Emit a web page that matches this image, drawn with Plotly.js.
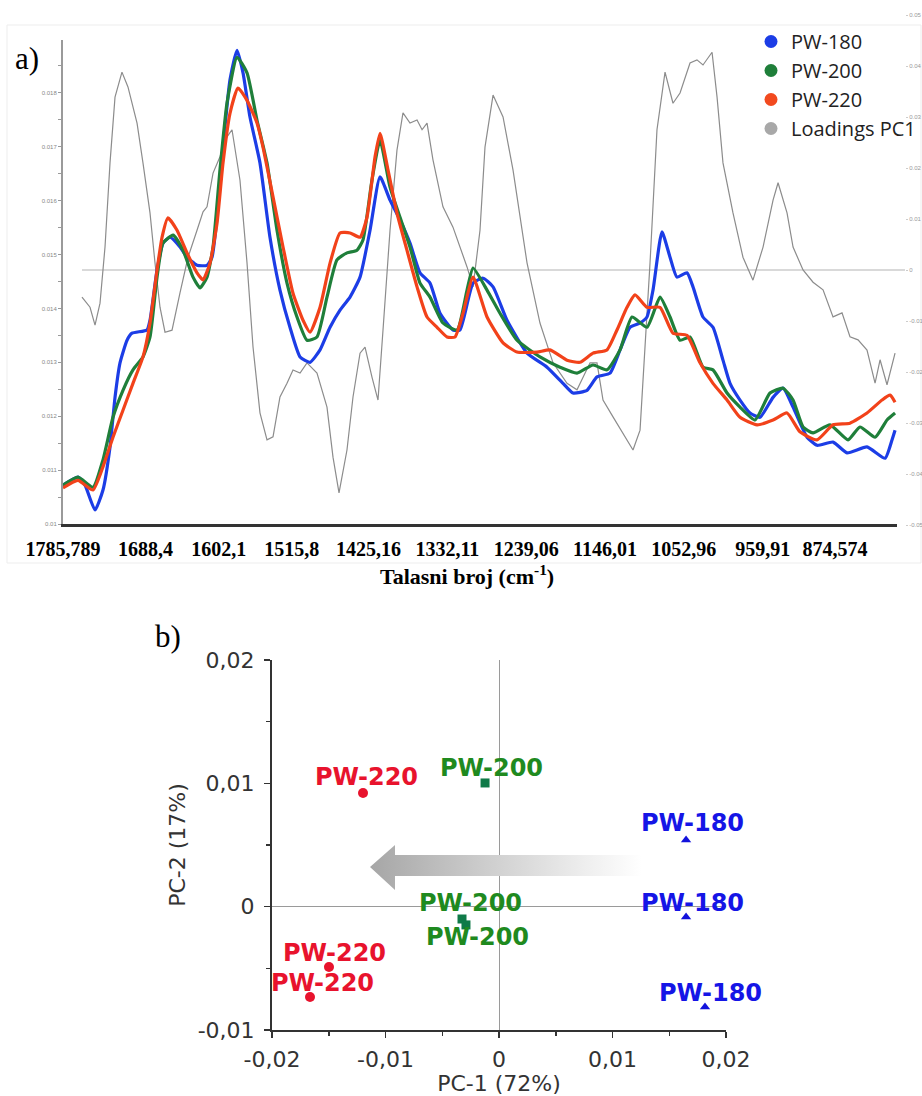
<!DOCTYPE html>
<html><head><meta charset="utf-8">
<script src="https://cdn.plot.ly/plotly-3.0.1.min.js"></script>
<style>html,body{margin:0;padding:0;background:#fff;}#chart{width:922px;height:1096px;}</style>
</head><body><div id="chart"></div>
<script>
// ---------- Panel a: FTIR spectra (wavenumber, absorbance) ----------
const wnTicks = [1785.789, 1688.4, 1602.1, 1515.8, 1425.16, 1332.11, 1239.06, 1146.01, 1052.96, 959.91, 874.574];
const wnTickText = ['1785,789', '1688,4', '1602,1', '1515,8', '1425,16', '1332,11', '1239,06', '1146,01', '1052,96', '959,91', '874,574'];
const absTicks = [0.01, 0.011, 0.012, 0.013, 0.014, 0.015, 0.016, 0.017, 0.018];
const absTickText = ['0.01', '0.011', '0.012', '0.013', '0.014', '0.015', '0.016', '0.017', '0.018'];
const loadTicks = [0.05, 0.04, 0.03, 0.02, 0.01, 0, -0.01, -0.02, -0.03, -0.04, -0.05];
const loadTickText = ['0.05', '0.04', '0.03', '0.02', '0.01', '0', '-0.01', '-0.02', '-0.03', '-0.04', '-0.05'];

const blueWn = [1785.8,1768.1,1759.8,1748.0,1738.6,1730.3,1724.4,1718.5,1710.2,1704.3,1686.6,1683.1,1674.8,1667.8,1659.5,1647.7,1639.4,1627.6,1615.8,1609.9,1604.0,1596.9,1588.7,1580.4,1573.3,1565.1,1553.3,1541.5,1529.7,1517.9,1506.0,1494.2,1482.4,1470.6,1458.8,1447.0,1435.2,1423.4,1411.6,1399.8,1388.0,1376.2,1364.4,1352.6,1340.8,1325.5,1317.2,1301.8,1290.0,1278.2,1261.7,1238.1,1214.5,1195.6,1183.8,1167.3,1155.5,1140.1,1128.3,1116.5,1104.7,1096.5,1089.4,1078.8,1069.3,1061.1,1049.3,1042.2,1030.4,1018.6,1006.8,998.5,986.7,974.9,963.1,947.7,935.9,924.1,907.6,895.8,876.9,860.4,836.8,815.5,807.3,803.7];
const blueAbs = [0.01072,0.01087,0.01072,0.01026,0.01063,0.01143,0.01235,0.01299,0.01341,0.01354,0.01360,0.01378,0.01471,0.01521,0.01532,0.01514,0.01495,0.01480,0.01480,0.01495,0.01569,0.01699,0.01824,0.01879,0.01837,0.01755,0.01670,0.01532,0.01434,0.01365,0.01310,0.01300,0.01323,0.01365,0.01397,0.01421,0.01458,0.01545,0.01644,0.01601,0.01564,0.01521,0.01466,0.01447,0.01391,0.01360,0.01360,0.01447,0.01456,0.01440,0.01378,0.01317,0.01291,0.01261,0.01243,0.01248,0.01273,0.01280,0.01323,0.01365,0.01373,0.01384,0.01434,0.01542,0.01495,0.01458,0.01466,0.01440,0.01384,0.01365,0.01304,0.01261,0.01230,0.01206,0.01198,0.01235,0.01252,0.01217,0.01161,0.01146,0.01152,0.01132,0.01143,0.01122,0.01156,0.01174];

const greenWn = [1785.8,1768.1,1750.4,1738.6,1726.8,1715.0,1703.2,1691.4,1683.1,1674.8,1667.8,1655.9,1644.1,1632.3,1624.1,1615.8,1608.7,1600.5,1592.2,1580.4,1568.6,1556.8,1545.0,1533.2,1521.4,1509.6,1497.8,1486.0,1474.2,1462.4,1450.6,1438.8,1431.7,1421.1,1411.6,1399.8,1388.0,1376.2,1364.4,1352.6,1337.3,1320.7,1308.9,1301.8,1285.3,1270.0,1249.9,1222.8,1199.2,1179.1,1160.2,1143.7,1128.3,1114.2,1096.5,1081.1,1069.3,1057.5,1045.7,1030.4,1018.6,1002.0,986.7,969.0,951.3,935.9,924.1,912.3,900.5,880.5,859.2,845.1,827.3,813.2,803.7];
const greenAbs = [0.01072,0.01087,0.01068,0.01119,0.01198,0.01248,0.01286,0.01310,0.01347,0.01458,0.01521,0.01536,0.01508,0.01458,0.01438,0.01458,0.01514,0.01657,0.01781,0.01866,0.01837,0.01749,0.01670,0.01545,0.01447,0.01384,0.01341,0.01347,0.01421,0.01490,0.01503,0.01508,0.01527,0.01638,0.01712,0.01625,0.01569,0.01514,0.01447,0.01421,0.01373,0.01360,0.01434,0.01475,0.01434,0.01391,0.01341,0.01310,0.01291,0.01280,0.01295,0.01286,0.01323,0.01384,0.01365,0.01421,0.01384,0.01341,0.01347,0.01291,0.01286,0.01243,0.01217,0.01193,0.01243,0.01252,0.01230,0.01180,0.01169,0.01184,0.01156,0.01180,0.01161,0.01193,0.01206];

const redWn = [1785.8,1768.1,1750.4,1738.6,1726.8,1715.0,1703.2,1691.4,1683.1,1674.8,1668.9,1661.9,1651.2,1639.4,1627.6,1620.5,1612.3,1604.0,1596.9,1588.7,1579.2,1568.6,1556.8,1549.7,1537.9,1526.1,1514.3,1502.5,1494.2,1482.4,1470.6,1458.8,1447.0,1435.2,1427.0,1417.5,1411.6,1402.2,1391.6,1379.8,1367.9,1356.1,1344.3,1332.5,1323.1,1313.6,1301.8,1285.3,1266.4,1249.9,1226.3,1211.0,1190.9,1175.6,1160.2,1143.7,1131.9,1120.1,1110.6,1096.5,1081.1,1065.8,1049.3,1033.9,1018.6,1002.0,986.7,966.6,947.7,931.2,915.9,895.8,876.9,856.9,836.8,819.1,809.6,803.7];
const redAbs = [0.01067,0.01081,0.01063,0.01106,0.01161,0.01211,0.01261,0.01310,0.01373,0.01471,0.01532,0.01568,0.01545,0.01503,0.01466,0.01453,0.01484,0.01558,0.01670,0.01762,0.01809,0.01786,0.01744,0.01699,0.01607,0.01514,0.01428,0.01378,0.01356,0.01402,0.01484,0.01540,0.01540,0.01532,0.01569,0.01681,0.01725,0.01657,0.01577,0.01508,0.01440,0.01384,0.01365,0.01347,0.01347,0.01391,0.01458,0.01384,0.01336,0.01319,0.01319,0.01323,0.01304,0.01300,0.01317,0.01323,0.01360,0.01402,0.01425,0.01402,0.01402,0.01354,0.01350,0.01299,0.01261,0.01230,0.01198,0.01184,0.01193,0.01206,0.01171,0.01156,0.01184,0.01187,0.01206,0.01230,0.01239,0.01226];

const loadWn = [1763.4,1753.9,1748.0,1742.1,1736.2,1730.3,1724.4,1716.2,1709.1,1698.4,1691.4,1683.1,1677.2,1671.3,1665.4,1657.1,1647.7,1638.2,1627.6,1620.5,1615.8,1608.7,1600.5,1592.2,1586.3,1576.9,1568.6,1561.5,1553.3,1545.0,1537.9,1529.7,1521.4,1514.3,1506.0,1497.8,1486.0,1474.2,1467.1,1460.0,1450.6,1443.5,1435.2,1429.3,1421.1,1414.0,1408.1,1399.8,1391.6,1384.5,1376.2,1367.9,1362.0,1356.1,1349.1,1337.3,1325.5,1317.2,1308.9,1301.8,1293.6,1287.7,1278.2,1266.4,1254.6,1238.1,1222.8,1207.4,1190.9,1179.1,1163.7,1155.5,1148.4,1136.6,1124.8,1113.0,1104.7,1092.9,1084.7,1075.2,1065.8,1057.5,1045.7,1037.5,1030.4,1019.7,1013.8,1006.8,995.0,983.2,971.4,959.5,947.7,941.8,931.2,924.1,912.3,900.5,888.7,876.9,866.3,856.9,847.4,836.8,827.3,821.4,813.2,803.7];
const loadVal = [-0.0053,-0.0073,-0.0108,-0.0065,0.0045,0.0210,0.0339,0.0388,0.0359,0.0288,0.0210,0.0112,0.0014,-0.0073,-0.0122,-0.0118,-0.0045,0.0025,0.0078,0.0114,0.0124,0.0190,0.0222,0.0261,0.0275,0.0176,0.0014,-0.0151,-0.0280,-0.0333,-0.0327,-0.0249,-0.0222,-0.0196,-0.0202,-0.0182,-0.0202,-0.0269,-0.0367,-0.0437,-0.0353,-0.0249,-0.0163,-0.0151,-0.0210,-0.0255,-0.0118,0.0078,0.0235,0.0308,0.0288,0.0294,0.0275,0.0288,0.0216,0.0124,0.0084,0.0045,0.0006,-0.0033,0.0078,0.0241,0.0343,0.0300,0.0196,0.0014,-0.0104,-0.0182,-0.0222,-0.0235,-0.0182,-0.0182,-0.0255,-0.0288,-0.0320,-0.0353,-0.0314,0.0014,0.0275,0.0388,0.0327,0.0347,0.0406,0.0412,0.0402,0.0427,0.0339,0.0210,0.0112,0.0025,-0.0020,0.0045,0.0137,0.0171,0.0112,0.0045,0.0000,-0.0024,-0.0039,-0.0092,-0.0084,-0.0131,-0.0137,-0.0157,-0.0222,-0.0176,-0.0225,-0.0163];

const seriesNames = ['PW-180', 'PW-200', 'PW-220', 'Loadings PC1'];

// ---------- Panel b: PCA scores ----------
const pcTicksX = [-0.02, -0.01, 0, 0.01, 0.02];
const pcTickTextX = ['-0,02', '-0,01', '0', '0,01', '0,02'];
const pcTicksY = [-0.01, 0, 0.01, 0.02];
const pcTickTextY = ['-0,01', '0', '0,01', '0,02'];
const pc1_180 = [0.01648, 0.01648, 0.01815];
const pc2_180 = [0.00541, -0.00084, -0.00813];
const pc1_200 = [-0.00123, -0.00326, -0.00291];
const pc2_200 = [0.01003, -0.00100, -0.00148];
const pc1_220 = [-0.01198, -0.01498, -0.01665];
const pc2_220 = [0.00922, -0.00489, -0.00732];

// ---------- layout helpers (pixel -> paper) ----------
const W = 922, H = 1096;
const fx = p => p / W;
const fy = p => 1 - p / H;

const C = {blue: '#1c3de6', green: '#1f7f3a', red: '#f2421a', gray: '#8c8c8c'};

const traces = [];
traces.push({x: loadWn, y: loadVal, xaxis: 'x', yaxis: 'y', mode: 'lines', name: seriesNames[3],
  line: {color: C.gray, width: 1.2}, showlegend: false, hoverinfo: 'skip'});
[[blueWn, blueAbs, C.blue, 0], [greenWn, greenAbs, C.green, 1], [redWn, redAbs, C.red, 2]].forEach(s => {
  traces.push({x: s[0], y: s[1], xaxis: 'x', yaxis: 'y2', mode: 'lines', name: seriesNames[s[3]],
    line: {color: s[2], width: 3.2, shape: 'spline', smoothing: 0.5}, showlegend: false});
});
[[C.blue, 0], [C.green, 1], ['#f24a1f', 2], ['#a8a8a8', 3]].forEach(s => {
  traces.push({x: [null], y: [null], xaxis: 'x', yaxis: 'y2', mode: 'markers', name: seriesNames[s[1]],
    marker: {color: s[0], size: 13}, showlegend: true});
});
const groups = [
  {name: 'PW-180', x: pc1_180, y: pc2_180, sym: 'triangle-up', mcol: '#1212dc', tcol: '#1515e6', size: 9,
   shift: [[6, 17], [6, 14], [5, 14]]},
  {name: 'PW-200', x: pc1_200, y: pc2_200, sym: 'square', mcol: '#0f7a48', tcol: '#1f8a1f', size: 9,
   shift: [[6, 15], [8, 16], [12, -12]]},
  {name: 'PW-220', x: pc1_220, y: pc2_220, sym: 'circle', mcol: '#e8132d', tcol: '#e8132d', size: 10,
   shift: [[3, 16], [6, 14], [12, 14]]}
];
const annotations = [];
groups.forEach(g => {
  traces.push({x: g.x, y: g.y, xaxis: 'x3', yaxis: 'y3', mode: 'markers', name: g.name, showlegend: false,
    marker: {symbol: g.sym, color: g.mcol, size: g.size}});
  g.x.forEach((v, i) => {
    annotations.push({xref: 'x3', yref: 'y3', x: v, y: g.y[i], text: g.name, showarrow: false,
      xanchor: 'center', yanchor: 'middle',
      xshift: g.shift[i][0], yshift: g.shift[i][1],
      font: {family: 'DejaVu Sans', size: 24, color: g.tcol, weight: 'bold'}});
  });
});
annotations.push({xref: 'paper', yref: 'paper', x: fx(27), y: fy(59), xanchor: 'center', yanchor: 'middle',
  text: 'a)', showarrow: false, font: {family: 'Liberation Serif', size: 31, color: '#000'}});
annotations.push({xref: 'paper', yref: 'paper', x: fx(168), y: fy(636), xanchor: 'center', yanchor: 'middle',
  text: 'b)', showarrow: false, font: {family: 'Liberation Serif', size: 31, color: '#000'}});
annotations.push({xref: 'paper', yref: 'paper', x: fx(467), y: fy(575), xanchor: 'center', yanchor: 'middle',
  text: 'Talasni broj (cm<sup>-1</sup>)', showarrow: false,
  font: {family: 'Liberation Serif', size: 22, color: '#000', weight: 'bold'}});

const arrowSvg = "<svg xmlns='http://www.w3.org/2000/svg' width='272' height='45' viewBox='0 0 272 45' preserveAspectRatio='none'>" +
  "<defs><linearGradient id='g' x1='0' y1='0' x2='1' y2='0'>" +
  "<stop offset='0' stop-color='#a6a6a6'/><stop offset='0.4' stop-color='#cbcbcb'/><stop offset='0.8' stop-color='#efefef'/><stop offset='1' stop-color='#ffffff'/>" +
  "</linearGradient></defs><polygon points='0,22 25,0 25,10 272,10 272,31 25,31 25,45' fill='url(#g)'/></svg>";

const layout = {
  width: W, height: H, margin: {l: 0, r: 0, t: 0, b: 0},
  paper_bgcolor: '#ffffff', plot_bgcolor: 'rgba(0,0,0,0)',
  showlegend: true,
  legend: {x: fx(751), y: fy(22), xanchor: 'left', yanchor: 'top', bgcolor: 'rgba(0,0,0,0)',
    font: {family: 'Open Sans', size: 20, color: '#222'}, tracegroupgap: 0},
  xaxis: {domain: [fx(63), fx(897)], range: [1785.79, 801.4], anchor: 'y2',
    showline: true, linecolor: '#333', linewidth: 3, ticks: '', showgrid: false, zeroline: false,
    tickmode: 'array', tickvals: wnTicks, ticktext: wnTickText, ticklabelstandoff: 5,
    tickfont: {family: 'Liberation Serif', size: 20, color: '#000', weight: 'bold'}},
  yaxis: {domain: [fy(525), fy(15)], range: [-0.05, 0.05], anchor: 'free', position: fx(905), side: 'right',
    showline: false, showgrid: false, zeroline: false, ticks: 'outside', ticklen: 2, tickcolor: '#cccccc',
    tickmode: 'array', tickvals: loadTicks, ticktext: loadTickText,
    tickfont: {family: 'Liberation Sans', size: 6, color: '#999'}},
  yaxis2: {domain: [fy(524), fy(40)], range: [0.01, 0.01898], anchor: 'x',
    showline: true, linecolor: '#9a9a9a', linewidth: 2, showgrid: false, zeroline: false,
    ticks: 'outside', ticklen: 3, tickcolor: '#9a9a9a', tickwidth: 1,
    minor: {tickmode: 'linear', tick0: 0.01, dtick: 0.0005, ticks: 'outside', ticklen: 3, tickcolor: '#9a9a9a'},
    tickmode: 'array', tickvals: absTicks, ticktext: absTickText,
    tickfont: {family: 'Liberation Sans', size: 6, color: '#888'}},
  xaxis3: {domain: [fx(272), fx(726)], range: [-0.02, 0.02], anchor: 'y3',
    showline: true, linecolor: '#333', linewidth: 2, showgrid: false,
    zeroline: true, zerolinecolor: '#9a9a9a', zerolinewidth: 1,
    ticks: 'outside', ticklen: 6, tickcolor: '#333', tickwidth: 1.5,
    minor: {tickmode: 'linear', tick0: -0.02, dtick: 0.005, ticks: 'outside', ticklen: 4, tickcolor: '#333'},
    tickmode: 'array', tickvals: pcTicksX, ticktext: pcTickTextX, ticklabelstandoff: 3,
    tickfont: {family: 'DejaVu Sans', size: 22, color: '#333'},
    title: {text: 'PC-1 (72%)', standoff: 6, font: {family: 'DejaVu Sans', size: 22, color: '#333'}}},
  yaxis3: {domain: [fy(1030), fy(660)], range: [-0.01, 0.02], anchor: 'x3',
    showline: true, linecolor: '#333', linewidth: 2, showgrid: false,
    zeroline: true, zerolinecolor: '#9a9a9a', zerolinewidth: 1,
    ticks: 'outside', ticklen: 6, tickcolor: '#333', tickwidth: 1.5,
    minor: {tickmode: 'linear', tick0: -0.01, dtick: 0.005, ticks: 'outside', ticklen: 4, tickcolor: '#333'},
    tickmode: 'array', tickvals: pcTicksY, ticktext: pcTickTextY, ticklabelstandoff: 5,
    tickfont: {family: 'DejaVu Sans', size: 22, color: '#333'},
    title: {text: 'PC-2 (17%)', standoff: 6, font: {family: 'DejaVu Sans', size: 22, color: '#333'}}},
  shapes: [
    {type: 'rect', xref: 'paper', yref: 'paper', x0: fx(7), x1: fx(921), y0: fy(563), y1: fy(25),
      line: {color: '#ededed', width: 1}, layer: 'below'},
    {type: 'line', xref: 'paper', yref: 'y', x0: fx(82), x1: fx(905), y0: 0, y1: 0,
      line: {color: '#b3b3b3', width: 1}, layer: 'below'}
  ],
  images: [{source: 'data:image/svg+xml;charset=utf-8,' + encodeURIComponent(arrowSvg),
    xref: 'paper', yref: 'paper', x: fx(370), y: fy(845), sizex: 272 / W, sizey: 45 / H,
    xanchor: 'left', yanchor: 'top', sizing: 'stretch', layer: 'above'}],
  annotations: annotations
};

Plotly.newPlot('chart', traces, layout, {displayModeBar: false, staticPlot: true});
</script>
</body></html>
